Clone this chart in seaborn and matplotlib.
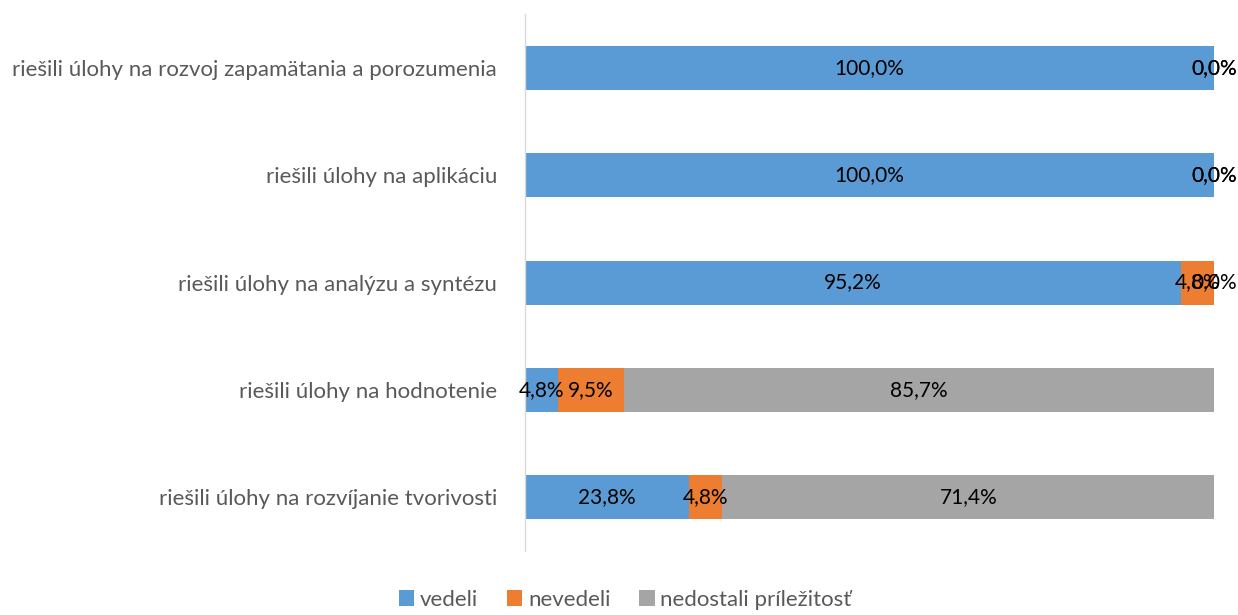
import matplotlib
matplotlib.use("Agg")
import matplotlib.pyplot as plt
import seaborn as sns
import pandas as pd
import numpy as np
from matplotlib.patches import Patch

categories = [
    "riešili úlohy na rozvoj zapamätania a porozumenia",
    "riešili úlohy na aplikáciu",
    "riešili úlohy na analýzu a syntézu",
    "riešili úlohy na hodnotenie",
    "riešili úlohy na rozvíjanie tvorivosti",
]
vedeli = [100.0, 100.0, 95.2, 4.8, 23.8]
nevedeli = [0.0, 0.0, 4.8, 9.5, 4.8]
nedostali = [0.0, 0.0, 0.0, 85.7, 71.4]
series_names = ["vedeli", "nevedeli", "nedostali príležitosť"]
colors = ["#5B9BD5", "#ED7D31", "#A5A5A5"]

sns.set_theme(style="white")
plt.rcParams["font.family"] = ["Lato", "DejaVu Sans"]

fig = plt.figure(figsize=(12.38, 6.15), dpi=100)
ax = fig.add_axes([0.424, 0.104, 0.557, 0.873])

v = np.array(vedeli)
n = np.array(nevedeli)
d = np.array(nedostali)
cum1 = v
cum2 = v + n
cum3 = v + n + d

df = pd.DataFrame({"cat": categories, "c1": cum1, "c2": cum2, "c3": cum3})
for col, c in zip(["c3", "c2", "c1"], colors[::-1]):
    sns.barplot(data=df, y="cat", x=col, color=c, orient="h", width=0.41,
                saturation=1, ax=ax, order=categories, linewidth=0)

for i in range(len(categories)):
    starts = [0, cum1[i], cum2[i]]
    vals = [v[i], n[i], d[i]]
    for s, val in zip(starts, vals):
        ax.text(s + val / 2, i, f"{val:.1f}%".replace(".", ","), ha="center",
                va="center", fontsize=15, color="black")

ax.set_xlim(0, 100)
ax.set_ylim(4.5, -0.5)
ax.set_xlabel("")
ax.set_ylabel("")
ax.set_xticks([])
for sp in ["top", "right", "bottom"]:
    ax.spines[sp].set_visible(False)
ax.spines["left"].set_color("#D9D9D9")
ax.spines["left"].set_linewidth(1)
ax.tick_params(axis="y", length=0, pad=20, labelsize=16, labelcolor="#595959")

handles = [Patch(facecolor=c, edgecolor="none") for c in colors]
fig.legend(handles, series_names, loc="lower center", bbox_to_anchor=(0.505, -0.024),
           ncol=3, frameon=False, fontsize=16, labelcolor="#595959",
           handlelength=0.7, handleheight=0.7, handletextpad=0.25, columnspacing=1.3)

fig.savefig("out.png", dpi=100)
